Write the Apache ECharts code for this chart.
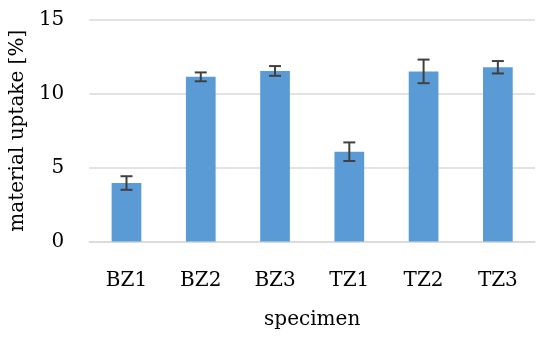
<!DOCTYPE html>
<html>
<head>
<meta charset="utf-8">
<script src="https://cdn.jsdelivr.net/npm/echarts@6/dist/echarts.min.js"></script>
<style>html,body{margin:0;padding:0;background:#fff;}#chart{width:550px;height:340px;}</style>
</head>
<body>
<div id="chart"></div>
<script>
var categories = ['BZ1', 'BZ2', 'BZ3', 'TZ1', 'TZ2', 'TZ3'];
var uptake = [3.96, 11.15, 11.55, 6.08, 11.52, 11.8];
var errors = [0.46, 0.3, 0.33, 0.63, 0.8, 0.42];
var yTicks = [0, 5, 10, 15];

var font = 'DejaVu Serif';
var errData = categories.map(function (c, i) {
  return [i, uptake[i] - errors[i], uptake[i] + errors[i]];
});

var chart = echarts.init(document.getElementById('chart'), null, {renderer: 'canvas'});
chart.setOption({
  animation: false,
  backgroundColor: '#ffffff',
  grid: {left: 88, right: 15, top: 20, bottom: 98.5, containLabel: false},
  xAxis: {
    type: 'category',
    data: categories,
    name: 'specimen',
    nameLocation: 'middle',
    nameGap: 68,
    nameTextStyle: {fontFamily: font, fontSize: 20, color: '#000'},
    axisLine: {show: true, lineStyle: {color: '#d9d9d9', width: 1.5}},
    axisTick: {show: false},
    axisLabel: {fontFamily: font, fontSize: 20, color: '#000', margin: 29}
  },
  yAxis: {
    type: 'value',
    min: yTicks[0],
    max: yTicks[yTicks.length - 1],
    interval: 5,
    name: 'material uptake [%]',
    nameLocation: 'middle',
    nameGap: 53,
    nameTextStyle: {fontFamily: font, fontSize: 20, color: '#000'},
    axisLine: {show: false},
    axisTick: {show: false},
    axisLabel: {fontFamily: font, fontSize: 20, color: '#000', margin: 25},
    splitLine: {lineStyle: {color: '#d9d9d9', width: 1.5}}
  },
  series: [
    {
      type: 'bar',
      data: uptake,
      barWidth: '40%',
      itemStyle: {color: '#5b9bd5'},
      z: 2
    },
    {
      type: 'custom',
      data: errData,
      z: 3,
      renderItem: function (params, api) {
        var x = api.value(0);
        var lo = api.coord([x, api.value(1)]);
        var hi = api.coord([x, api.value(2)]);
        var half = 6;
        var style = {stroke: '#404040', lineWidth: 2};
        return {
          type: 'group',
          children: [
            {type: 'line', shape: {x1: hi[0], y1: hi[1], x2: lo[0], y2: lo[1]}, style: style},
            {type: 'line', shape: {x1: hi[0] - half, y1: hi[1], x2: hi[0] + half, y2: hi[1]}, style: style},
            {type: 'line', shape: {x1: lo[0] - half, y1: lo[1], x2: lo[0] + half, y2: lo[1]}, style: style}
          ]
        };
      }
    }
  ]
});
</script>
</body>
</html>
